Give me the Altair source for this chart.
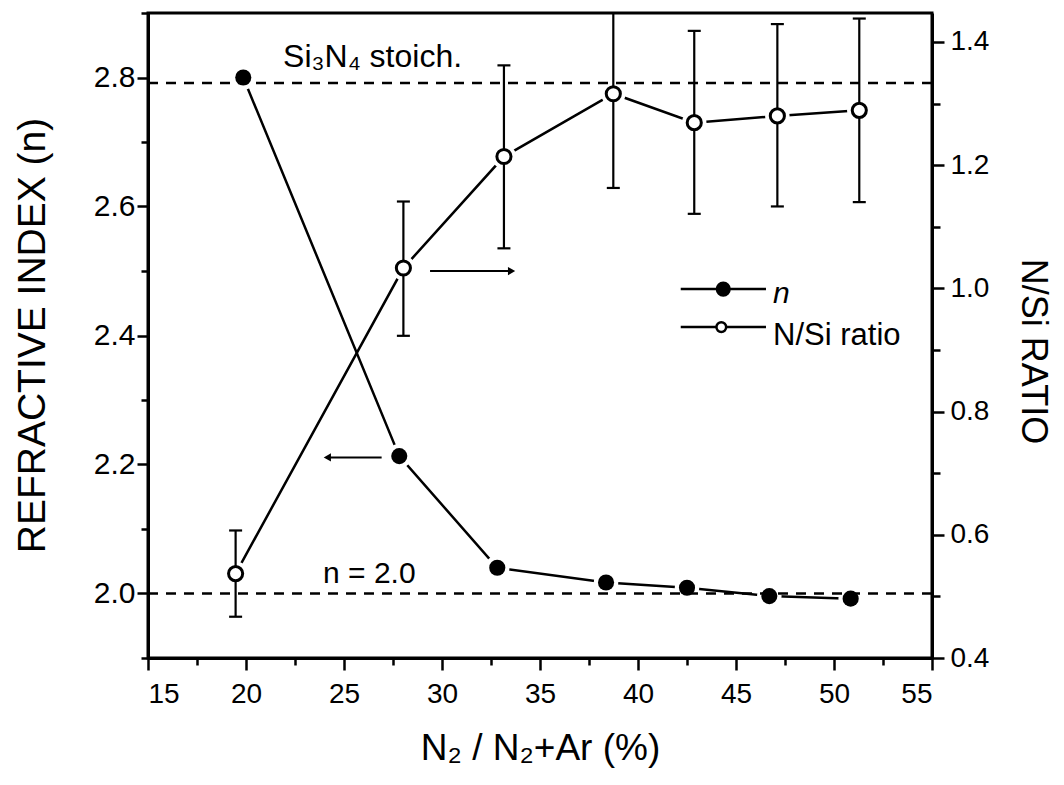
import altair as alt
import pandas as pd

# ---- data ----
gas_n = [19.86, 27.82, 32.82, 38.37, 42.5, 46.7, 50.85]
n_vals = [2.80, 2.213, 2.040, 2.017, 2.009, 1.996, 1.992]

gas_r = [19.47, 28.03, 33.16, 38.74, 42.87, 47.11, 51.29]
ratio = [0.537, 1.033, 1.214, 1.316, 1.269, 1.280, 1.289]
ratio_lo = [0.467, 0.923, 1.065, 1.163, 1.121, 1.133, 1.140]
ratio_hi = [0.607, 1.141, 1.362, 1.469, 1.418, 1.429, 1.438]

x_ticks = [15, 17.5, 20, 22.5, 25, 27.5, 30, 32.5, 35, 37.5, 40, 42.5, 45, 47.5, 50, 52.5, 55]
yl_ticks = [1.9, 2.0, 2.1, 2.2, 2.3, 2.4, 2.5, 2.6, 2.7, 2.8, 2.9]
yr_ticks = [0.4, 0.5, 0.6, 0.7, 0.8, 0.9, 1.0, 1.1, 1.2, 1.3, 1.4]

n_ref = 2.0
stoich_ref = 4.0 / 3.0

dn = pd.DataFrame({"x": gas_n, "y": n_vals})
dr = pd.DataFrame({"x": gas_r, "y": ratio, "lo": ratio_lo, "hi": ratio_hi})

FONT = "Liberation Sans"

xs = alt.Scale(domain=[15, 55], nice=False, zero=False)
yls = alt.Scale(domain=[1.9, 2.9], nice=False, zero=False)
yrs = alt.Scale(domain=[0.4, 1.447], nice=False, zero=False)

x_axis = alt.Axis(
    values=x_ticks, title="N₂ / N₂+Ar (%)", grid=False,
    labelExpr="datum.value % 5 === 0 ? format(datum.value, 'd') : ''",
    tickSize={"condition": {"test": "datum.value % 5 === 0", "value": 12}, "value": 7},
    tickWidth=2.5, tickColor="black", domainColor="black", domainWidth=3,
    labelFont=FONT, labelFontSize=28, labelColor="black", labelPadding=10,
    titleFont=FONT, titleFontSize=37, titleFontWeight="normal", titleColor="black",
    titleX=392, titleY=90, titleBaseline="middle",
)

yl_axis = alt.Axis(
    values=yl_ticks, orient="left", title="REFRACTIVE INDEX (n)", grid=False,
    labelExpr="round(datum.value*10) % 2 === 0 ? format(datum.value, '.1f') : ''",
    tickSize={"condition": {"test": "round(datum.value*10) % 2 === 0", "value": 11}, "value": 7},
    tickWidth=2.5, tickColor="black", domainColor="black", domainWidth=3,
    labelFont=FONT, labelFontSize=30, labelColor="black", labelPadding=2,
    titleFont=FONT, titleFontSize=39, titleFontWeight="normal", titleColor="black",
    titleX=-116, titleY=322, titleAngle=-90, titleBaseline="middle",
)

yr_axis = alt.Axis(
    values=yr_ticks, orient="right", title="N/Si RATIO", grid=False,
    labelExpr="round(datum.value*10) % 2 === 0 ? format(datum.value, '.1f') : ''",
    tickSize={"condition": {"test": "round(datum.value*10) % 2 === 0", "value": 12}, "value": 8},
    tickWidth=2.5, tickColor="black", domainColor="black", domainWidth=3,
    labelFont=FONT, labelFontSize=28, labelColor="black", labelPadding=6,
    titleFont=FONT, titleFontSize=36, titleFontWeight="normal", titleColor="black",
    titleX=100, titleY=338, titleAngle=90, titleBaseline="middle",
)


def X(field="x"):
    return alt.X(f"{field}:Q", scale=xs, axis=x_axis)


def YL(field="y", axis=None):
    return alt.Y(f"{field}:Q", scale=yls, axis=axis)


def YR(field="y", axis=None):
    return alt.Y(f"{field}:Q", scale=yrs, axis=axis)


# connecting lines
n_line = alt.Chart(dn).mark_line(color="black", strokeWidth=2.5).encode(x=X(), y=YL(axis=yl_axis))
r_line = alt.Chart(dr).mark_line(color="black", strokeWidth=2.5).encode(x=X(), y=YR(axis=yr_axis))

# white halos that leave gaps around the markers
halo_style = dict(shape="circle", filled=True, color="white", opacity=1, size=600, strokeWidth=0)
n_halo = alt.Chart(dn).mark_point(**halo_style).encode(x=X(), y=YL())
r_halo = alt.Chart(dr).mark_point(**halo_style).encode(x=X(), y=YR())

# left-scale annotations
n_rule = alt.Chart(pd.DataFrame({"y": [n_ref]})).mark_rule(
    color="black", strokeWidth=2.5, strokeDash=[10, 8]).encode(y=YL())
n_text = alt.Chart(pd.DataFrame({"x": [23.93], "y": [2.016], "t": ["n = 2.0"]})).mark_text(
    font=FONT, fontSize=30, align="left", baseline="alphabetic", color="black").encode(
    x=X(), y=YL(), text="t:N")
larrow = alt.Chart(pd.DataFrame({"x": [26.92], "x2": [24.1], "y": [2.211]})).mark_rule(
    color="black", strokeWidth=2).encode(x=X(), x2="x2:Q", y=YL())
larrow_head = alt.Chart(pd.DataFrame({"x": [24.15], "y": [2.211]})).mark_point(
    shape="triangle-left", filled=True, color="black", opacity=1, size=70).encode(x=X(), y=YL())
left_ann = alt.layer(n_rule, n_text, larrow, larrow_head)

# right-scale annotations
s_rule = alt.Chart(pd.DataFrame({"y": [stoich_ref]})).mark_rule(
    color="black", strokeWidth=2.5, strokeDash=[10, 8]).encode(y=YR())
s_text = alt.Chart(pd.DataFrame({"x": [21.89], "y": [1.359], "t": ["Si₃N₄ stoich."]})).mark_text(
    font=FONT, fontSize=32, align="left", baseline="alphabetic", color="black").encode(
    x=X(), y=YR(), text="t:N")
rarrow = alt.Chart(pd.DataFrame({"x": [29.39], "x2": [33.6], "y": [1.028]})).mark_rule(
    color="black", strokeWidth=2).encode(x=X(), x2="x2:Q", y=YR())
rarrow_head = alt.Chart(pd.DataFrame({"x": [33.55], "y": [1.028]})).mark_point(
    shape="triangle-right", filled=True, color="black", opacity=1, size=70).encode(x=X(), y=YR())
right_ann = alt.layer(s_rule, s_text, rarrow, rarrow_head)

# error bars
eb = alt.Chart(dr).mark_rule(color="black", strokeWidth=2.2, clip=True).encode(
    x=X(), y=YR("lo"), y2="hi:Q")
cap_lo = alt.Chart(dr).mark_tick(color="black", thickness=2.2, size=13, orient="horizontal",
                                 opacity=1).encode(x=X(), y=YR("lo"))
cap_hi = alt.Chart(dr).mark_tick(color="black", thickness=2.2, size=13, orient="horizontal",
                                 opacity=1, clip=True).encode(x=X(), y=YR("hi"))
errs = alt.layer(eb, cap_lo, cap_hi)

# markers
n_pts = alt.Chart(dn).mark_point(shape="circle", filled=True, color="black", opacity=1,
                                 size=260, strokeWidth=0).encode(x=X(), y=YL())
r_pts = alt.Chart(dr).mark_point(shape="circle", filled=True, fill="white", stroke="black",
                                 strokeWidth=3, opacity=1, size=200).encode(x=X(), y=YR())

# legend (left scale coordinates)
leg_lines = pd.DataFrame({"x": [42.18, 46.53, 42.18, 46.53], "y": [2.472, 2.472, 2.413, 2.413],
                          "g": ["a", "a", "b", "b"]})
leg_line = alt.Chart(leg_lines).mark_line(color="black", strokeWidth=2.5).encode(
    x=X(), y=YL(), detail="g:N")
leg_fill = alt.Chart(pd.DataFrame({"x": [44.35], "y": [2.472]})).mark_point(
    shape="circle", filled=True, color="black", opacity=1, size=230, strokeWidth=0).encode(x=X(), y=YL())
leg_open = alt.Chart(pd.DataFrame({"x": [44.25], "y": [2.413]})).mark_point(
    shape="circle", filled=True, fill="white", stroke="black", strokeWidth=2.5, opacity=1,
    size=95).encode(x=X(), y=YL())
leg_n = alt.Chart(pd.DataFrame({"x": [46.89], "y": [2.4504], "t": ["n"]})).mark_text(
    font=FONT, fontSize=30, fontStyle="italic", align="left", baseline="alphabetic",
    color="black").encode(x=X(), y=YL(), text="t:N")
leg_r = alt.Chart(pd.DataFrame({"x": [46.89], "y": [2.3853], "t": ["N/Si ratio"]})).mark_text(
    font=FONT, fontSize=31, align="left", baseline="alphabetic", color="black").encode(
    x=X(), y=YL(), text="t:N")
legend = alt.layer(leg_line, leg_fill, leg_open, leg_n, leg_r)

chart = alt.layer(
    n_line, r_line, n_halo, r_halo, left_ann, right_ann, errs, n_pts, r_pts, legend
).resolve_scale(y="independent").properties(
    width=784, height=645,
    padding={"left": 140, "top": 5, "right": 124, "bottom": 119},
    autosize=alt.AutoSizeParams(type="none"),
    background="white",
).configure_view(stroke="black", strokeWidth=3)

chart.save("out.html", embed_options={"renderer": "svg", "actions": False})
